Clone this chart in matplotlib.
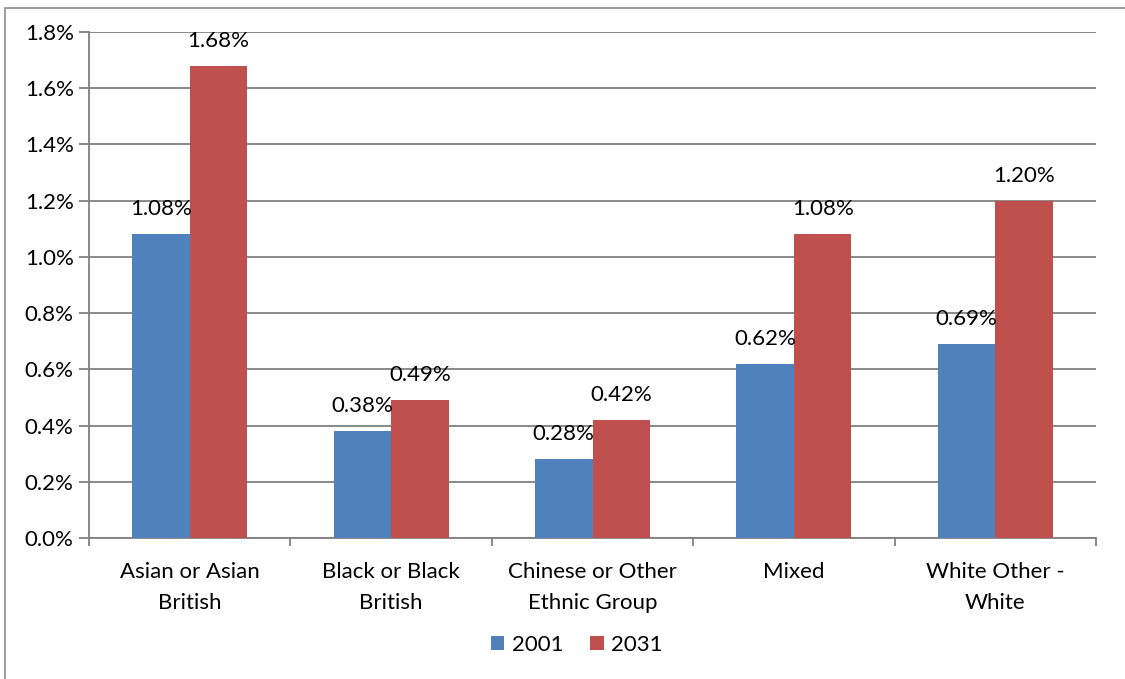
import matplotlib
matplotlib.use("Agg")
import matplotlib.pyplot as plt
from matplotlib.patches import Rectangle
from matplotlib.ticker import FuncFormatter, MultipleLocator
import numpy as np

categories = ["Asian or Asian\nBritish", "Black or Black\nBritish",
              "Chinese or Other\nEthnic Group", "Mixed", "White Other -\nWhite"]
series_names = ["2001", "2031"]
values_2001 = [1.08, 0.38, 0.28, 0.62, 0.69]
values_2031 = [1.68, 0.49, 0.42, 1.08, 1.20]

blue = "#4F81BD"
red = "#C0504D"
grid_col = "#808080"
fs = 16

plt.rcParams["font.family"] = ["Lato", "DejaVu Sans"]
fig = plt.figure(figsize=(11.25, 6.79), dpi=100)

# chart border (top/left visible)
fig.patches.append(Rectangle((5 / 1125, -0.1), 1.2, (679 - 8) / 679 + 0.1,
                             transform=fig.transFigure, fill=False,
                             edgecolor="#8c8c8c", linewidth=1.2))

ax = fig.add_axes([89 / 1125, 1 - 538 / 679, (1096 - 89) / 1125, (538 - 32) / 679])

x = np.arange(len(categories))
bw = 0.2857
b1 = ax.bar(x - bw / 2, values_2001, bw, color=blue, label=series_names[0], zorder=3)
b2 = ax.bar(x + bw / 2, values_2031, bw, color=red, label=series_names[1], zorder=3)

for bars, vals in ((b1, values_2001), (b2, values_2031)):
    for rect, v in zip(bars, vals):
        ax.annotate(f"{v:.2f}%", (rect.get_x() + rect.get_width() / 2, v),
                    xytext=(0, 18), textcoords="offset points",
                    ha="center", va="center", fontsize=fs, zorder=5)

ax.set_xlim(-0.5, len(categories) - 0.5)
ax.set_ylim(0, 1.8)
ax.yaxis.set_major_locator(MultipleLocator(0.2))
ax.yaxis.set_major_formatter(FuncFormatter(lambda v, p: f"{v:.1f}%"))
ax.yaxis.grid(True, color=grid_col, linewidth=1.3, zorder=0)
ax.set_axisbelow(True)

ax.set_xticks(x)
ax.set_xticklabels(categories, fontsize=fs, linespacing=1.7)
ax.tick_params(axis="x", length=0, pad=17)
ax.set_xticks(np.arange(len(categories) + 1) - 0.5, minor=True)
ax.tick_params(axis="x", which="minor", length=6, color=grid_col, width=1.3)
ax.tick_params(axis="y", length=7, color=grid_col, width=1.3, labelsize=fs, pad=4)

for s in ("top", "right"):
    ax.spines[s].set_visible(False)
for s in ("left", "bottom"):
    ax.spines[s].set_color(grid_col)
    ax.spines[s].set_linewidth(1.3)

fig.legend(handles=[b1, b2], labels=series_names, loc="center",
           bbox_to_anchor=(577 / 1125, 1 - 645 / 679), ncol=2, frameon=False,
           fontsize=fs, handlelength=0.6, handleheight=0.6, handletextpad=0.35,
           columnspacing=1.2)

fig.savefig("out.png", dpi=100)
